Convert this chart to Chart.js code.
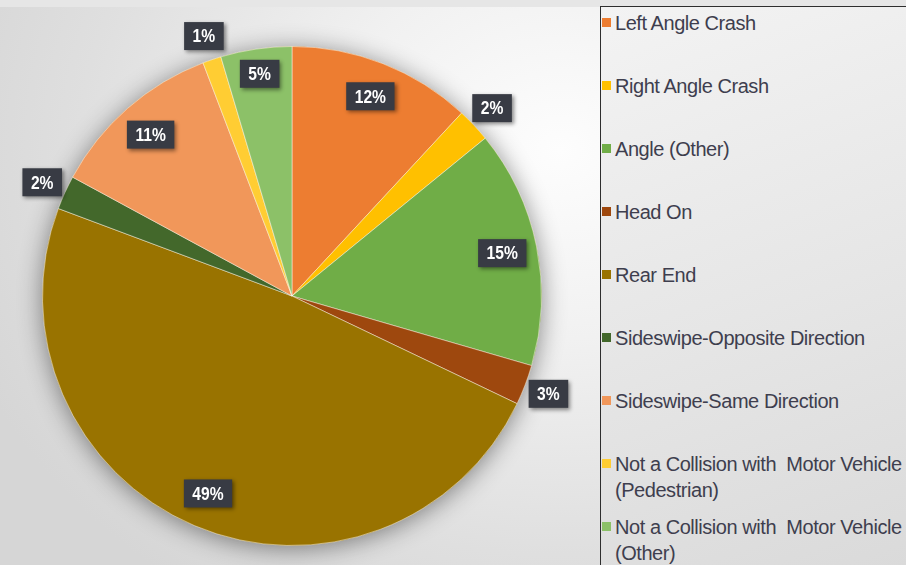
<!DOCTYPE html>
<html>
<head>
<meta charset="utf-8">
<title>Crash Types</title>
<script src="https://cdn.jsdelivr.net/npm/chart.js@4.4.1/dist/chart.umd.min.js"></script>
<style>
  html, body { margin: 0; padding: 0; }
  body {
    width: 906px;
    height: 565px;
    overflow: hidden;
    position: relative;
    font-family: "Liberation Sans", Arial, sans-serif;
    background: radial-gradient(ellipse 640px 540px at 560px 150px, #fdfdfd 0%, #f1f1f1 35%, #dfdfdf 75%, #d6d6d6 100%);
  }
  .topbar { position: absolute; left: 0; top: 0; width: 906px; height: 7px; background: #e6e6e6; }
  #chartWrap { position: absolute; left: 0; top: 0; width: 590px; height: 565px; }
  #legend {
    position: absolute;
    left: 600px;
    top: 6px;
    width: 340px;
    height: 600px;
    box-sizing: border-box;
    padding-top: 3px;
    border-left: 1.5px solid #2e2e2e;
    border-top: 1.5px solid #2e2e2e;
    background: linear-gradient(160deg, #f3f3f3 0%, #e6e6e6 50%, #d8d8d8 100%);
  }
  .item {
    position: relative;
    height: 63px;
    padding-left: 14px;
    font-size: 20px;
    line-height: 26px;
    letter-spacing: -0.45px;
    color: #3e3e4e;
    white-space: pre;
  }
  .item .sw { position: absolute; left: 1px; top: 8px; width: 9px; height: 9px; }
</style>
</head>
<body>
<div class="topbar"></div>
<div id="chartWrap"><canvas id="crashPie"></canvas></div>
<div id="legend"></div>

<script>
// ============================================================
// DATA
// ============================================================

const categories = [
  "Left Angle Crash",
  "Right Angle Crash",
  "Angle (Other)",
  "Head On",
  "Rear End",
  "Sideswipe-Opposite Direction",
  "Sideswipe-Same Direction",
  "Not a Collision with  Motor Vehicle\n(Pedestrian)",
  "Not a Collision with  Motor Vehicle\n(Other)"
];

// share of crashes, percent
const shares = [11.9, 2.2, 15.4, 2.6, 48.6, 2.2, 11.3, 1.2, 4.6];

const sliceColors = [
  "#ED7D31", "#FFC000", "#70AD47", "#9E480E", "#997300",
  "#43682B", "#F1975A", "#FFCD33", "#8CC168"
];


// ============================================================
// PLUGINS
// ============================================================

// soft shadow under the whole pie
const pieShadow = {
  id: "pieShadow",
  beforeDatasetsDraw(chart) {
    const arc = chart.getDatasetMeta(0).data[0];
    if (!arc) return;
    const p = arc.getProps(["x", "y", "outerRadius"], true);
    const ctx = chart.ctx;
    ctx.save();
    ctx.shadowColor = "rgba(0,0,0,0.45)";
    ctx.shadowBlur = 24;
    ctx.shadowOffsetY = 3;
    ctx.beginPath();
    ctx.arc(p.x, p.y, p.outerRadius, 0, Math.PI * 2);
    ctx.fillStyle = "#c8a040";
    ctx.fill();
    ctx.restore();
  }
};

// dark percent boxes, small slices pushed outside
const percentBoxes = {
  id: "percentBoxes",
  afterDatasetsDraw(chart) {
    const ctx = chart.ctx;
    const meta = chart.getDatasetMeta(0);
    const total = shares.reduce((a, b) => a + b, 0);

    ctx.save();
    ctx.font = "bold 17px 'Liberation Sans', Arial, sans-serif";
    ctx.textAlign = "center";
    ctx.textBaseline = "middle";

    meta.data.forEach((arc, i) => {
      const p = arc.getProps(["x", "y", "startAngle", "endAngle", "outerRadius"], true);
      const pct = shares[i] / total * 100;
      const mid = (p.startAngle + p.endAngle) / 2;
      const r = p.outerRadius * (pct < 4 ? 1.1 : pct < 8 ? 0.9 : 0.86);
      const cx = p.x + Math.cos(mid) * r;
      const cy = p.y + Math.sin(mid) * r;
      const text = Math.round(pct) + "%";
      const w = ctx.measureText(text).width * 0.92 + 17;
      const h = 28;

      ctx.shadowColor = "rgba(0,0,0,0.45)";
      ctx.shadowBlur = 4;
      ctx.shadowOffsetX = 2;
      ctx.shadowOffsetY = 2;
      ctx.fillStyle = "#383b44";
      ctx.fillRect(cx - w / 2, cy - h / 2, w, h);

      // slightly condensed, taller digits
      ctx.shadowColor = "transparent";
      ctx.fillStyle = "#ffffff";
      ctx.save();
      ctx.translate(cx, cy + 1);
      ctx.scale(0.92, 1.12);
      ctx.fillText(text, 0, 0);
      ctx.restore();
    });
    ctx.restore();
  }
};


// ============================================================
// CHART
// ============================================================

new Chart(document.getElementById("crashPie").getContext("2d"), {
  type: "pie",
  data: {
    labels: categories,
    datasets: [{
      data: shares,
      backgroundColor: sliceColors,
      borderColor: "rgba(255,255,255,0.45)",
      borderWidth: 1
    }]
  },
  options: {
    responsive: true,
    maintainAspectRatio: false,
    animation: false,
    layout: { padding: { left: 42, right: 48, top: 45, bottom: 18 } },
    plugins: {
      legend: { display: false },
      tooltip: { enabled: false }
    }
  },
  plugins: [pieShadow, percentBoxes]
});


// ============================================================
// LEGEND
// ============================================================

const legend = document.getElementById("legend");
legend.innerHTML = categories.map((name, i) => `
  <div class="item"><span class="sw" style="background:${sliceColors[i]}"></span>${name}</div>
`).join("");
</script>
</body>
</html>
